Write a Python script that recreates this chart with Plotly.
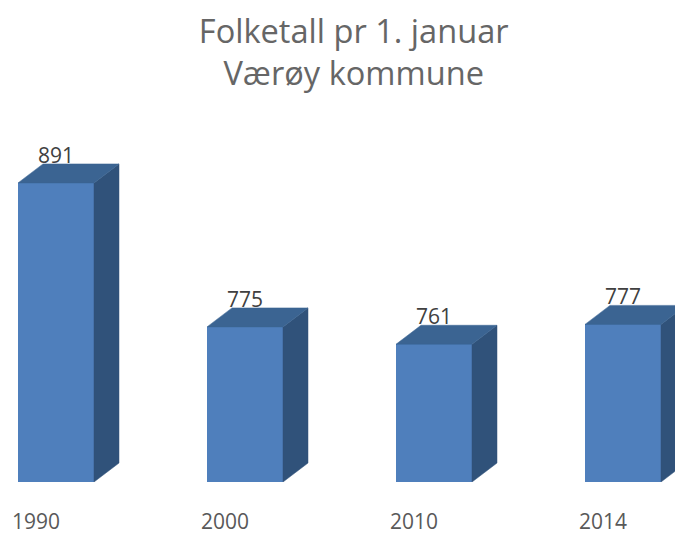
import plotly.graph_objects as go

years = ["1990", "2000", "2010", "2014"]
population = [891, 775, 761, 777]
title_lines = ["Folketall pr 1. januar", "Værøy kommune"]

FRONT = "#4F7FBC"
SIDE = "#30527A"
TOP = "#3B6492"
TEXT = "#404040"
AXIS_TEXT = "#595959"
TITLE = "#666666"

W, H = 675, 535
BOTTOM = 53
BASE, PX_PER_UNIT = 650, 1.241
STEP_PX, FIRST_CENTER = 189, 56
WIDTH_PX, DX_PX, DY_PX = 76, 25, 19

dx = DX_PX / STEP_PX
dy = DY_PX / PX_PER_UNIT
half = WIDTH_PX / STEP_PX / 2
idx = list(range(len(years)))

fig = go.Figure()


def poly(xs, ys, color):
    fig.add_trace(go.Scatter(x=xs, y=ys, mode="lines", fill="toself", fillcolor=color,
                             line=dict(color=color, width=0.5), hoverinfo="skip", showlegend=False))


for i, v in zip(idx, population):
    l, r = i - half, i + half
    poly([r, r + dx, r + dx, r, r], [BASE, BASE + dy, v + dy, v, BASE], SIDE)
    poly([l, r, r + dx, l + dx, l], [v, v, v + dy, v + dy, v], TOP)

fig.add_trace(go.Bar(x=idx, y=[v - BASE for v in population], base=BASE, width=2 * half,
                     marker=dict(color=FRONT, line=dict(width=0)), showlegend=False,
                     hovertemplate="%{customdata}: %{y}<extra></extra>", customdata=years))

for i, v in zip(idx, population):
    fig.add_annotation(x=i, y=v, text=str(v), showarrow=False, yshift=28,
                       font=dict(family="Open Sans", size=21, color=TEXT))

fig.update_layout(
    width=W, height=H, autosize=False,
    margin=dict(l=0, r=0, t=0, b=BOTTOM),
    paper_bgcolor="white", plot_bgcolor="white",
    font=dict(family="Open Sans"),
    title=dict(text="<br>".join(title_lines), x=0.524, xanchor="center", y=0.92, yanchor="top",
               font=dict(family="Open Sans", size=32.6, color=TITLE)),
    xaxis=dict(range=[-FIRST_CENTER / STEP_PX, (W - FIRST_CENTER) / STEP_PX],
               tickmode="array", tickvals=[i - 20 / STEP_PX for i in idx], ticktext=years,
               ticks="", showgrid=False, zeroline=False, showline=False, ticklabelstandoff=25,
               automargin=False,
               tickfont=dict(family="Open Sans", size=21, color=AXIS_TEXT)),
    yaxis=dict(range=[BASE, BASE + (H - BOTTOM) / PX_PER_UNIT], visible=False),
    bargap=0,
)
fig.write_html("out.html", post_script="document.body.style.margin='0';",
               config={"displayModeBar": False})
